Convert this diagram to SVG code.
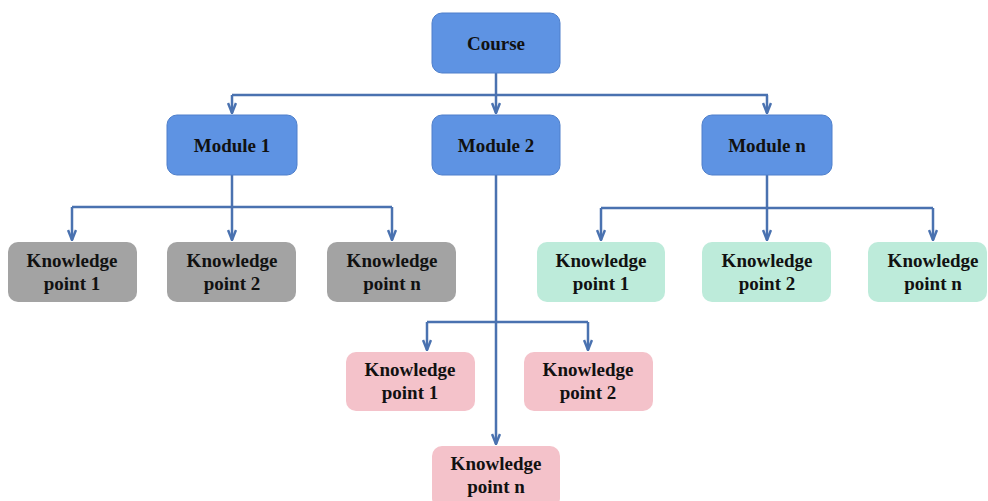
<svg xmlns="http://www.w3.org/2000/svg" width="988" height="501" viewBox="0 0 988 501">
<style>
.t{font-family:"Liberation Serif","Times New Roman",serif;font-weight:bold;font-size:19px;fill:#111;text-anchor:middle}
.blue{fill:#5E93E3;stroke:#4E7FCB;stroke-width:1}
.gray{fill:#A3A3A3}
.green{fill:#BDEBDA}
.pink{fill:#F4C2CA}
.c{fill:none;stroke:#4A72B0;stroke-width:2.5}
</style>
<defs>
<marker id="a" viewBox="0 0 12 10" refX="11" refY="5" markerWidth="12" markerHeight="10" markerUnits="userSpaceOnUse" orient="auto">
<path d="M1,1 L11,5 L1,9" fill="none" stroke="#4A72B0" stroke-width="2.5"/>
</marker>
</defs>
<g id="connectors">
<path class="c" d="M496,73 V95"/>
<path class="c" d="M232,95 H768"/>
<path class="c" d="M232,95 V113" marker-end="url(#a)"/>
<path class="c" d="M496,95 V113" marker-end="url(#a)"/>
<path class="c" d="M767,95 V113" marker-end="url(#a)"/>
<path class="c" d="M232,175 V207"/>
<path class="c" d="M72,207 H392"/>
<path class="c" d="M72,207 V240" marker-end="url(#a)"/>
<path class="c" d="M232,207 V240" marker-end="url(#a)"/>
<path class="c" d="M392,207 V240" marker-end="url(#a)"/>
<path class="c" d="M767,175 V208"/>
<path class="c" d="M601,208 H933"/>
<path class="c" d="M601,208 V240" marker-end="url(#a)"/>
<path class="c" d="M767,208 V240" marker-end="url(#a)"/>
<path class="c" d="M933,208 V240" marker-end="url(#a)"/>
<path class="c" d="M496,175 V444" marker-end="url(#a)"/>
<path class="c" d="M427,322 H588"/>
<path class="c" d="M427,322 V350" marker-end="url(#a)"/>
<path class="c" d="M588,322 V350" marker-end="url(#a)"/>
</g>
<g id="course"><rect class="blue" x="432" y="13" width="128" height="60" rx="10"/><text class="t" x="496" y="50">Course</text></g>
<g id="module1"><rect class="blue" x="167" y="115" width="130" height="60" rx="10"/><text class="t" x="232" y="152">Module 1</text></g>
<g id="module2"><rect class="blue" x="432" y="115" width="128" height="60" rx="10"/><text class="t" x="496" y="152">Module 2</text></g>
<g id="modulen"><rect class="blue" x="702" y="115" width="130" height="60" rx="10"/><text class="t" x="767" y="152">Module n</text></g>
<g id="kp1-1"><rect class="gray" x="8" y="242" width="129" height="60" rx="10"/><text class="t" x="72" y="267">Knowledge</text><text class="t" x="72" y="290">point 1</text></g>
<g id="kp1-2"><rect class="gray" x="167" y="242" width="129" height="60" rx="10"/><text class="t" x="232" y="267">Knowledge</text><text class="t" x="232" y="290">point 2</text></g>
<g id="kp1-n"><rect class="gray" x="327" y="242" width="129" height="60" rx="10"/><text class="t" x="392" y="267">Knowledge</text><text class="t" x="392" y="290">point n</text></g>
<g id="kpn-1"><rect class="green" x="537" y="242" width="128" height="60" rx="10"/><text class="t" x="601" y="267">Knowledge</text><text class="t" x="601" y="290">point 1</text></g>
<g id="kpn-2"><rect class="green" x="702" y="242" width="129" height="60" rx="10"/><text class="t" x="767" y="267">Knowledge</text><text class="t" x="767" y="290">point 2</text></g>
<g id="kpn-n"><rect class="green" x="868" y="242" width="119" height="60" rx="10"/><text class="t" x="933" y="267">Knowledge</text><text class="t" x="933" y="290">point n</text></g>
<g id="kp2-1"><rect class="pink" x="346" y="352" width="129" height="59" rx="10"/><text class="t" x="410" y="376">Knowledge</text><text class="t" x="410" y="399">point 1</text></g>
<g id="kp2-2"><rect class="pink" x="524" y="352" width="129" height="59" rx="10"/><text class="t" x="588" y="376">Knowledge</text><text class="t" x="588" y="399">point 2</text></g>
<g id="kp2-n"><rect class="pink" x="432" y="446" width="128" height="62" rx="10"/><text class="t" x="496" y="470">Knowledge</text><text class="t" x="496" y="493">point n</text></g>
</svg>
